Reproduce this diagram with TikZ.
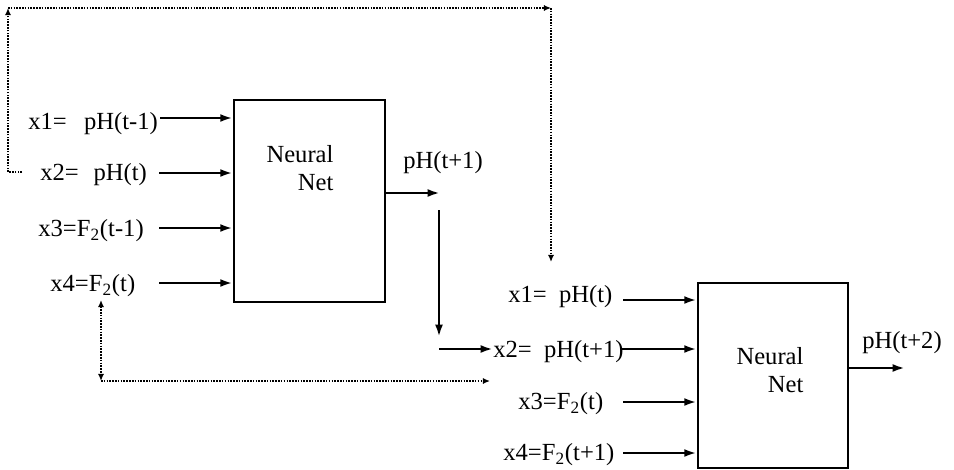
\documentclass[tikz,border=0pt]{standalone}
\usepackage{fontspec}
\setmainfont{Liberation Serif}
\usetikzlibrary{arrows.meta}

\begin{document}
\begin{tikzpicture}[x=0.02cm,y=-0.02cm,
  font=\fontsize{14}{15.5}\selectfont,
  net/.style={draw,line width=1.6pt,minimum width=3.02cm,minimum height=4.04cm,inner sep=0pt},
  inp/.style={-{Latex[length=7pt,width=4.5pt]},line width=1.6pt},
  fb/.style={dash pattern=on 0.9pt off 0.7pt,line width=1.2pt},
  fbtip/.style={-{Latex[length=4pt,width=3.5pt]}},
  lbl/.style={anchor=west,inner sep=0pt}]

\useasboundingbox (0,0) rectangle (954,470);

% first net
\node[net] (net1) at (309.5,201) {};
\node[align=right,inner sep=0pt] (txt1) at (300,168) {Neural\\Net};

\node[lbl] (in1a) at (28,124) {x1=\hspace{0.7em}pH(t-1)};
\node[lbl] (in1b) at (40,175) {x2=\hspace{0.6em}pH(t)};
\node[lbl] (in1c) at (38,231) {x3=F\textsubscript{2}(t-1)};
\node[lbl] (in1d) at (50,286) {x4=F\textsubscript{2}(t)};

\coordinate (s1a) at (160,118);
\coordinate (s1b) at (159,173);
\coordinate (s1c) at (159,228);
\coordinate (s1d) at (159,283);
\foreach \k in {a,b,c,d}
  \draw[inp] (s1\k) -- (s1\k -| net1.west);

\coordinate (o1) at (440,193);
\draw[inp] (o1 -| net1.east) -- (o1);
\node (out1) at (443,163) {pH(t+1)};

% second net
\node[net,minimum width=3cm,minimum height=3.7cm] (net2) at (773,375.5) {};
\node[align=right,inner sep=0pt] (txt2) at (770,370) {Neural\\Net};

\node[lbl] (in2a) at (508,297) {x1=\hspace{0.5em}pH(t)};
\node[lbl] (in2b) at (493,352) {x2=\hspace{0.5em}pH(t+1)};
\node[lbl] (in2c) at (518,404) {x3=F\textsubscript{2}(t)};
\node[lbl] (in2d) at (503,455) {x4=F\textsubscript{2}(t+1)};

\coordinate (s2a) at (623,300);
\coordinate (s2b) at (622,349);
\coordinate (s2c) at (623,402);
\coordinate (s2d) at (623,453);
\foreach \k in {a,b,c,d}
  \draw[inp] (s2\k) -- (s2\k -| net2.west);

\coordinate (o2) at (905,368);
\draw[inp] (o2 -| net2.east) -- (o2);
\node (out2) at (902,343) {pH(t+2)};

% pH(t+1) carried over
\coordinate (d1) at (439,210);
\coordinate (d2) at (439,337);
\coordinate (d3) at (439,349);
\draw[inp] (d1) -- (d2);
\draw[inp] (d3) -- (d3 -| in2b.west);

% feedback lines
\coordinate (t0) at (22,172);
\coordinate (t1) at (8,172);
\coordinate (t2) at (8,8);
\coordinate (t3) at (551,8);
\coordinate (t4) at (551,262);
\draw[fb] (t0) -- (t1);
\draw[fb,fbtip] (t1) -- (t2);
\draw[fb,fbtip] (t2) -- (t3);
\draw[fb,fbtip] (t3) -- (t4);

\coordinate (b0) at (101,300);
\coordinate (b1) at (101,381);
\coordinate (b2) at (490,381);
\draw[fb,{Latex[length=4pt,width=3.5pt]}-{Latex[length=4pt,width=3.5pt]}] (b0) -- (b1);
\draw[fb,fbtip] (b1) -- (b2);

\end{tikzpicture}
\end{document}
